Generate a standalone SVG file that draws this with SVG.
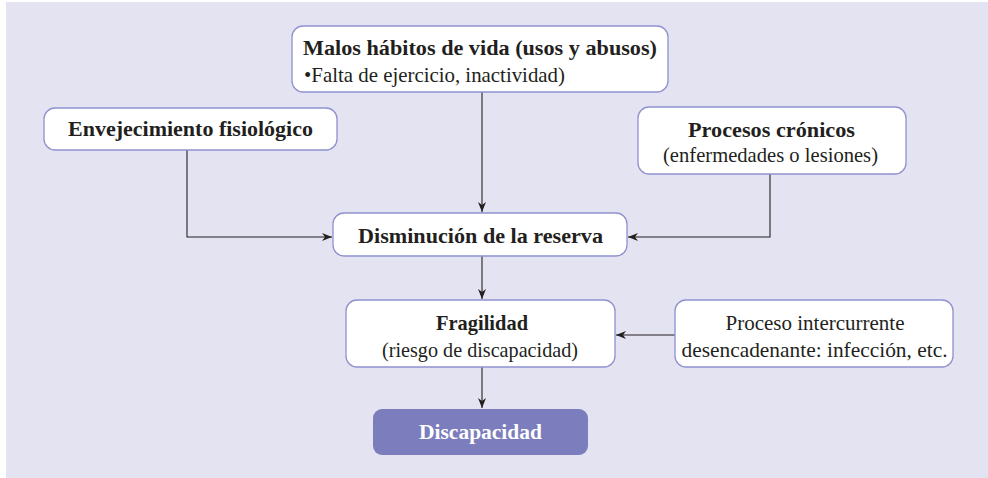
<svg xmlns="http://www.w3.org/2000/svg" width="988" height="478" viewBox="0 0 988 478">
<defs>
<style>
.box{fill:#ffffff;stroke:#8f91cf;stroke-width:1.3}
.dark{fill:#7b7dbd;stroke:none}
.t{font-family:"Liberation Serif","DejaVu Serif",serif;font-size:21px;fill:#231f20}
.b{font-weight:bold;font-size:22px}
.w{fill:#ffffff}
.c{text-anchor:middle}
.ln{fill:none;stroke:#231f20;stroke-width:1.1}
</style>
<marker id="ah" viewBox="0 0 10 10" refX="10" refY="5" markerWidth="10" markerHeight="10" markerUnits="userSpaceOnUse" orient="auto">
<path d="M0,1 L10,5 L0,9 L3,5 Z" fill="#231f20"/>
</marker>
</defs>
<rect x="6" y="2" width="982" height="476" fill="#e4e3f2"/>
<g id="connectors">
<path class="ln" d="M482,92 V212" marker-end="url(#ah)"/>
<path class="ln" d="M187,150 V237 H332" marker-end="url(#ah)"/>
<path class="ln" d="M770,174 V237 H628" marker-end="url(#ah)"/>
<path class="ln" d="M482,256 V299" marker-end="url(#ah)"/>
<path class="ln" d="M675,335 H616" marker-end="url(#ah)"/>
<path class="ln" d="M482,367 V408" marker-end="url(#ah)"/>
</g>
<g id="malos">
<rect class="box" x="292" y="26" width="376" height="66" rx="11"/>
<text class="t b" x="303" y="55" textLength="354" lengthAdjust="spacingAndGlyphs">Malos hábitos de vida (usos y abusos)</text>
<text class="t" x="304" y="82" textLength="261" lengthAdjust="spacingAndGlyphs">•Falta de ejercicio, inactividad)</text>
</g>
<g id="envejecimiento">
<rect class="box" x="44" y="108" width="293" height="42" rx="11"/>
<text class="t b c" x="190.5" y="135.5" textLength="245" lengthAdjust="spacingAndGlyphs">Envejecimiento fisiológico</text>
</g>
<g id="procesos">
<rect class="box" x="638" y="107" width="268" height="67" rx="11"/>
<text class="t b c" x="771.5" y="136.5" textLength="167" lengthAdjust="spacingAndGlyphs">Procesos crónicos</text>
<text class="t c" x="770.5" y="162" textLength="215" lengthAdjust="spacingAndGlyphs">(enfermedades o lesiones)</text>
</g>
<g id="disminucion">
<rect class="box" x="333" y="213" width="294" height="43" rx="11"/>
<text class="t b c" x="480.5" y="242.5" textLength="245" lengthAdjust="spacingAndGlyphs">Disminución de la reserva</text>
</g>
<g id="fragilidad">
<rect class="box" x="346" y="300" width="269" height="67" rx="11"/>
<text class="t b c" x="482" y="330" textLength="92" lengthAdjust="spacingAndGlyphs">Fragilidad</text>
<text class="t c" x="480" y="357" textLength="196" lengthAdjust="spacingAndGlyphs">(riesgo de discapacidad)</text>
</g>
<g id="intercurrente">
<rect class="box" x="675" y="300" width="278" height="67" rx="11"/>
<text class="t c" x="815" y="330" textLength="179" lengthAdjust="spacingAndGlyphs">Proceso intercurrente</text>
<text class="t c" x="814.5" y="357" textLength="266" lengthAdjust="spacingAndGlyphs">desencadenante: infección, etc.</text>
</g>
<g id="discapacidad">
<rect class="dark" x="373" y="409" width="215" height="46" rx="9"/>
<text class="t b c w" x="480.5" y="438.5" textLength="123" lengthAdjust="spacingAndGlyphs">Discapacidad</text>
</g>
</svg>
